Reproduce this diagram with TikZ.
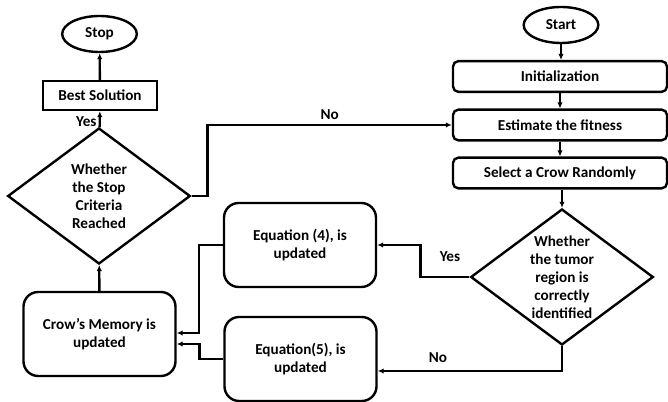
\documentclass[tikz,border=0pt]{standalone}
\usepackage{fontspec}
\setmainfont{Carlito}
\usetikzlibrary{shapes.geometric, arrows.meta}

\begin{document}
\begin{tikzpicture}[x=0.75pt, y=-0.75pt,
  font=\bfseries\fontsize{11.4}{13.5}\selectfont,
  line width=1.8pt,
  term/.style={ellipse, draw, minimum width=56pt, minimum height=27pt, inner sep=0pt},
  proc/.style={rectangle, draw, rounded corners=4pt, minimum width=160.5pt, minimum height=23pt, inner sep=0pt},
  bigproc/.style={rectangle, draw, rounded corners=11pt, minimum width=114pt, minimum height=63pt, align=center, inner sep=0pt},
  decide/.style={diamond, draw, minimum width=137pt, minimum height=102pt, aspect=1.35, inner sep=0pt, align=center},
  arr/.style={-{Latex[length=4.5pt, width=4pt]}}]

  \useasboundingbox (0,0) rectangle (668,402);

  % Right column
  \node[term] (start) at (561,25) {Start};
  \node[proc] (init) at (560,76.5) {Initialization};
  \node[proc] (fitness) at (560,125) {Estimate the fitness};
  \node[proc] (select) at (560,173) {Select a Crow Randomly};
  \node[decide] (tumor) at (562,277) {Whether\\the tumor\\region is\\correctly\\identified};

  % Update boxes
  \node[bigproc] (eqfour) at (300,245) {Equation (4), is\\updated};
  \node[bigproc] (eqfive) at (300.5,359) {Equation(5), is\\updated};

  % Left column
  \node[bigproc] (memory) at (99.5,334) {Crow’s Memory is\\updated};
  \node[decide] (criteria) at (99,196) {Whether\\the Stop\\Criteria\\Reached};
  \node[rectangle, draw, minimum width=85.5pt, minimum height=21.75pt, inner sep=0pt] (best) at (100,95.5) {Best Solution};
  \node[term] (stop) at (99.5,34) {Stop};

  % Edges
  \draw[arr] (start.south) -- (start.south |- init.north);
  \draw[arr] (init) -- (fitness);
  \draw[arr] (fitness) -- (select);
  \draw[arr] (tumor.north |- select.south) -- (tumor.north);
  \draw[arr] (tumor.west) -- ++(-49,0) |- (eqfour.east);
  \node at (450,257) {Yes};
  \draw[arr] (tumor.south) |- ([yshift=-9pt]eqfive.east);
  \node at (438,358) {No};
  \draw[arr] (eqfour.west) -- ++(-24,0) |- ([yshift=0.75pt]memory.east);
  \draw[arr] (eqfive.west) -- ++(-24,0) |- ([yshift=-7.5pt]memory.east);
  \draw[arr] (memory) -- (criteria);
  \draw[arr] (criteria) -- node[left, pos=0.35, inner sep=1.5pt] {Yes} (best);
  \draw[arr] (best) -- (stop);
  \draw[arr] (criteria.east) -- ++(16,0) |- node[above, pos=0.75] {No} (fitness.west);

\end{tikzpicture}
\end{document}
